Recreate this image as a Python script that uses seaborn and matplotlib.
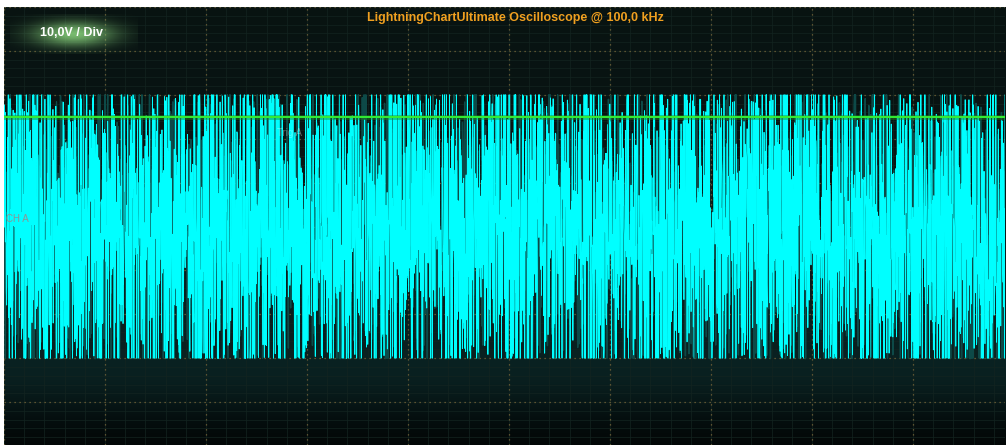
import numpy as np
import matplotlib
matplotlib.use("Agg")
import matplotlib.pyplot as plt
import seaborn as sns
import pandas as pd

sns.set_theme(style="dark")
plt.rcParams['font.family'] = ['Liberation Sans', 'DejaVu Sans']

# Scope settings
volts_per_div = 10.0
sample_rate_khz = 100.0
divs_x = 10
divs_y = 10
trigger_level = 25.0          # V, channel A trigger
rail_high = 30.0              # V, upper limit of the captured noise
rail_low = -30.0              # V, lower limit of the captured noise
noise_span = (-36.0, 35.0)    # V, spread of the wide noise component
core_sigma = 9.0              # V, spread of the narrow noise component
core_share = 0.35             # share of samples in the narrow component
title_text = "LightningChartUltimate Oscilloscope @ 100,0 kHz"
scale_text = "10,0V / Div"
channel_text = "CH A"
trigger_text = "Trig A"

# Captured noise on channel A (current sweep and the fading previous one)
n_samples = 4500
rng = np.random.default_rng(7)


def capture(n):
    wide = rng.uniform(*noise_span, n)
    core = rng.normal(0.0, core_sigma, n)
    pick = rng.random(n) < core_share
    return np.clip(np.where(pick, core, wide), rail_low, rail_high)


trace = capture(n_samples)
ghost = capture(n_samples // 2)

W, H = 1007, 445
fig = plt.figure(figsize=(W / 100, H / 100), dpi=100, facecolor="white")
ax_left, ax_top, ax_right = 4, 7, 1005
px_div_x = 101.0
px_div_y = 43.9
ax = fig.add_axes([ax_left / W, 0, (ax_right - ax_left) / W, (H - ax_top) / H])
x_max = (ax_right - ax_left) / px_div_x
y_top = divs_y / 2 * volts_per_div
y_bot = y_top - (H - ax_top) / px_div_y * volts_per_div
ax.set_xlim(0, x_max)
ax.set_ylim(y_bot, y_top)
for s in ax.spines.values():
    s.set_visible(False)
ax.set_xticks([])
ax.set_yticks([])

# Dark teal background, brightest just under the trace
ys = np.linspace(0, 1, 300)
top_c = np.array([0.035, 0.075, 0.07])
mid_c = np.array([0.038, 0.13, 0.13])
bot_c = np.array([0.008, 0.018, 0.018])
img = np.zeros((300, 2, 3))
for i, yy in enumerate(ys):
    if yy < 0.82:
        c = top_c + (mid_c - top_c) * np.exp(-((yy - 0.82) / 0.35) ** 2)
    else:
        c = bot_c + (mid_c - bot_c) * np.exp(-((yy - 0.82) / 0.12) ** 2)
    img[i, :, :] = c
ax.imshow(img, extent=[0, x_max, y_bot, y_top], aspect="auto", zorder=0,
          interpolation="bilinear")

# Minor grid (solid, faint) and major grid (dotted)
for k in np.arange(0, x_max, 0.2):
    ax.axvline(k, color="#132420", lw=0.5, zorder=1)
for k in np.arange(y_top, y_bot, -volts_per_div / 5):
    ax.axhline(k, color="#132420", lw=0.5, zorder=1)
for k in range(0, int(x_max) + 1):
    ax.axvline(k, color="#75653a", lw=0.9, ls=(0, (1, 3)), zorder=2)
for k in np.arange(y_top, y_bot, -volts_per_div):
    ax.axhline(k, color="#75653a", lw=0.9, ls=(0, (1, 3)), zorder=2)

t = np.linspace(0, x_max, n_samples)
tg = np.linspace(0, x_max, n_samples // 2)
sns.lineplot(x=tg, y=ghost, ax=ax, estimator=None, sort=False,
             color="#0d4a48", lw=1.0, zorder=3)
sns.lineplot(x=t, y=trace, ax=ax, estimator=None, sort=False,
             color="#00ffff", lw=0.6, zorder=4)

# Trigger level
ax.axhline(trigger_level, color="#1f8a1f", lw=3.5, alpha=0.45, zorder=5)
ax.axhline(trigger_level, color="#33ee33", lw=1.4, zorder=6)
ax.text(2.83, trigger_level - 3.7, trigger_text, color="white", alpha=0.35,
        fontsize=7, ha="center", va="center", zorder=7)
ax.text(0.02, 1.6, channel_text, color="#8a9696", fontsize=7,
        ha="left", va="center", zorder=7)
ax.set_xlabel("")
ax.set_ylabel("")

# Glow behind the scale label
gax = fig.add_axes([10 / W, 1 - 54 / H, 128 / W, 40 / H])
gx = np.linspace(-1, 1, 200)[None, :]
gy = np.linspace(-1, 1, 80)[:, None]
g = np.exp(-(gx ** 2 + gy ** 2) * 2.6)
rgba = np.zeros((80, 200, 4))
rgba[..., 0] = 0.55
rgba[..., 1] = 0.85
rgba[..., 2] = 0.5
rgba[..., 3] = 0.85 * g
gax.imshow(rgba, aspect="auto", interpolation="bilinear")
gax.axis("off")

fig.text(71 / W, 1 - 33 / H, scale_text, color="white", fontsize=9,
         fontweight="bold", ha="center", va="center")
fig.text(515 / W, 1 - 18 / H, title_text, color="#f0a020", fontsize=9,
         fontweight="bold", ha="center", va="center")

fig.savefig("out.png", dpi=100, facecolor="white")
